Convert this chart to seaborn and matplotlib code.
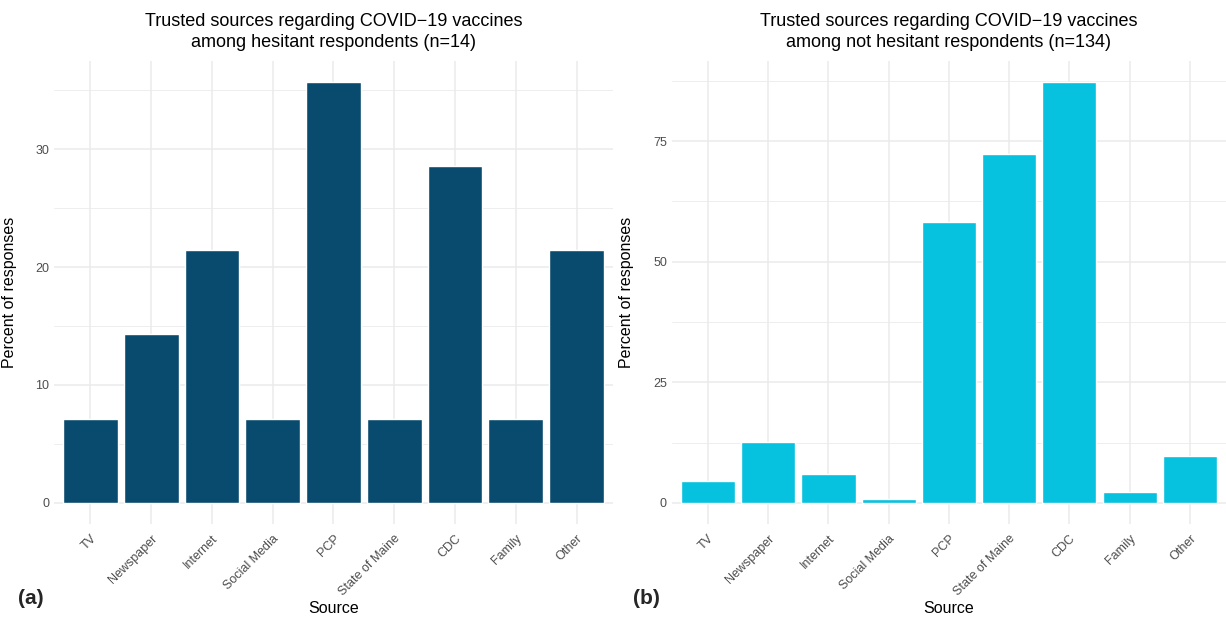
import matplotlib
matplotlib.use("Agg")
import matplotlib.pyplot as plt
import seaborn as sns
import pandas as pd
from matplotlib.ticker import MultipleLocator

sources = ["TV", "Newspaper", "Internet", "Social Media", "PCP",
           "State of Maine", "CDC", "Family", "Other"]
hesitant_pct = [7.14, 14.29, 21.43, 7.14, 35.71, 7.14, 28.57, 7.14, 21.43]
not_hesitant_pct = [4.48, 12.69, 5.97, 0.75, 58.21, 72.39, 87.31, 2.24, 9.70]

title_a = "Trusted sources regarding COVID\u221219 vaccines\namong hesitant respondents (n=14)"
title_b = "Trusted sources regarding COVID\u221219 vaccines\namong not hesitant respondents (n=134)"

sns.set_theme(style="white")
plt.rcParams['font.family'] = ['Liberation Sans', 'DejaVu Sans']

fig = plt.figure(figsize=(12.26, 6.19), dpi=100)

panels = [
    (hesitant_pct, "#084B6E", title_a, [0.044, 0.1535, 0.456, 0.7485], 10, 5, "(a)", -0.066),
    (not_hesitant_pct, "#06C2DE", title_b, [0.548, 0.1535, 0.452, 0.7485], 25, 12.5, "(b)", -0.069),
]

for vals, col, title, rect, major, minor, tag, ylx in panels:
    ax = fig.add_axes(rect)
    df = pd.DataFrame({"Source": sources, "Percent": vals})
    sns.barplot(data=df, x="Source", y="Percent", color=col, width=0.9,
                saturation=1, ax=ax, zorder=3)
    vmax = max(vals)
    ax.set_ylim(-0.05 * vmax, 1.05 * vmax)
    ax.set_xlim(-0.6, len(sources) - 0.4)
    ax.yaxis.set_major_locator(MultipleLocator(major))
    ax.yaxis.set_minor_locator(MultipleLocator(minor))
    ax.grid(True, which="major", color="#EBEBEB", linewidth=1.1, zorder=0)
    ax.grid(True, which="minor", axis="y", color="#EBEBEB", linewidth=0.6, zorder=0)
    ax.set_axisbelow(True)
    for s in ax.spines.values():
        s.set_visible(False)
    ax.tick_params(axis="both", which="both", length=0, colors="#4D4D4D", labelsize=9)
    ax.tick_params(axis="x", pad=6)
    ax.set_xticks(range(len(sources)))
    ax.set_xticklabels(sources, rotation=45, ha="right", rotation_mode="anchor")
    ax.set_ylabel("Percent of responses", fontsize=11.5, color="black")
    ax.set_xlabel("Source", fontsize=11.5, color="black", labelpad=2)
    ax.set_title(title, fontsize=13, color="black", pad=10, linespacing=1.3)
    ax.yaxis.set_label_coords(ylx, 0.5)
    fig.text(rect[0] - 0.029 if tag == "(a)" else rect[0] - 0.032, 0.018, tag,
             fontsize=15, fontweight="bold", ha="left", va="bottom")

fig.savefig("out.png", dpi=100)
